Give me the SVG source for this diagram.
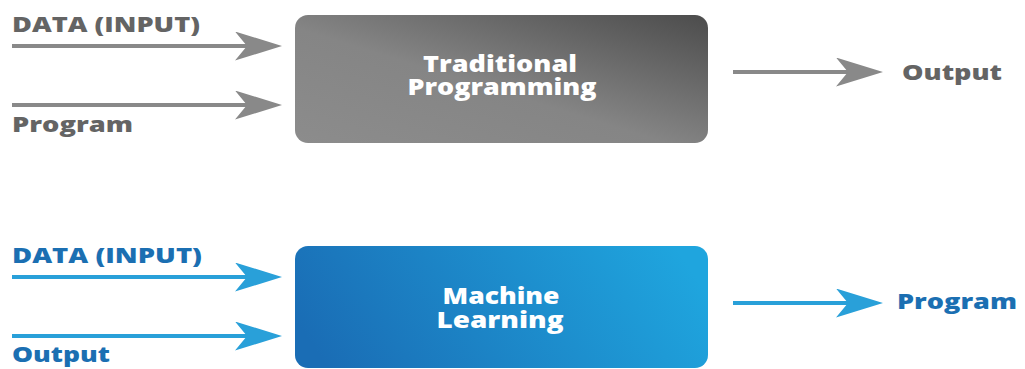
<svg xmlns="http://www.w3.org/2000/svg" width="1025" height="369" viewBox="0 0 1025 369">
  <style>
    .lbl { font-family: "Open Sans", "Liberation Sans", sans-serif; font-weight: 800; font-size: 21px; }
    .gray { fill: #646464; }
    .blue { fill: #1b6fb2; }
    .box-text { font-family: "Open Sans", "Liberation Sans", sans-serif; font-weight: 800; font-size: 23px; fill: #ffffff; text-anchor: middle; }
    .wire-gray { stroke: #898989; stroke-width: 4; fill: none; }
    .wire-blue { stroke: #29a0d9; stroke-width: 4; fill: none; }
  </style>
  <defs>
    <linearGradient id="gradGray" x1="0" y1="1" x2="1" y2="0">
      <stop offset="0" stop-color="#8c8c8c"/>
      <stop offset="0.45" stop-color="#858585"/>
      <stop offset="1" stop-color="#4c4c4c"/>
    </linearGradient>
    <linearGradient id="gradBlue" x1="0" y1="0.6" x2="1" y2="0.4">
      <stop offset="0" stop-color="#1a6db5"/>
      <stop offset="1" stop-color="#1fa5de"/>
    </linearGradient>
    <marker id="headGray" markerUnits="userSpaceOnUse" markerWidth="48" markerHeight="30" refX="35" refY="14.5" orient="auto">
      <path d="M0,0 L47,14.5 L0,29 L12,14.5 Z" fill="#898989"/>
    </marker>
    <marker id="headBlue" markerUnits="userSpaceOnUse" markerWidth="48" markerHeight="30" refX="35" refY="14.5" orient="auto">
      <path d="M0,0 L47,14.5 L0,29 L12,14.5 Z" fill="#29a0d9"/>
    </marker>
  </defs>

  <!-- connectors -->
  <g id="connectors">
    <path class="wire-gray" d="M12,46 H270" marker-end="url(#headGray)"/>
    <path class="wire-gray" d="M12,105 H270" marker-end="url(#headGray)"/>
    <path class="wire-gray" d="M733,72 H871" marker-end="url(#headGray)"/>
    <path class="wire-blue" d="M12,277 H270" marker-end="url(#headBlue)"/>
    <path class="wire-blue" d="M12,336 H270" marker-end="url(#headBlue)"/>
    <path class="wire-blue" d="M733,303 H871" marker-end="url(#headBlue)"/>
  </g>

  <!-- traditional programming -->
  <g id="traditional">
    <rect x="295" y="15" width="413" height="128" rx="13" fill="url(#gradGray)"/>
    <text class="box-text" x="500" y="72" textLength="154" lengthAdjust="spacingAndGlyphs">Traditional</text>
    <text class="box-text" x="502" y="95" textLength="189" lengthAdjust="spacingAndGlyphs">Programming</text>
  </g>
  <g id="trad-data-label">
    <text class="lbl gray" x="12" y="32" textLength="188" lengthAdjust="spacingAndGlyphs">DATA (INPUT)</text>
  </g>
  <g id="trad-program-label">
    <text class="lbl gray" x="12" y="132" textLength="121" lengthAdjust="spacingAndGlyphs">Program</text>
  </g>
  <g id="trad-output-label">
    <text class="lbl gray" x="902" y="80" textLength="100" lengthAdjust="spacingAndGlyphs">Output</text>
  </g>

  <!-- machine learning -->
  <g id="machine-learning">
    <rect x="295" y="246" width="413" height="122" rx="13" fill="url(#gradBlue)"/>
    <text class="box-text" x="501" y="304" textLength="117" lengthAdjust="spacingAndGlyphs">Machine</text>
    <text class="box-text" x="500" y="328" textLength="127" lengthAdjust="spacingAndGlyphs">Learning</text>
  </g>
  <g id="ml-data-label">
    <text class="lbl blue" x="12" y="263" textLength="190" lengthAdjust="spacingAndGlyphs">DATA (INPUT)</text>
  </g>
  <g id="ml-output-label">
    <text class="lbl blue" x="12" y="362" textLength="98" lengthAdjust="spacingAndGlyphs">Output</text>
  </g>
  <g id="ml-program-label">
    <text class="lbl blue" x="897" y="309" textLength="120" lengthAdjust="spacingAndGlyphs">Program</text>
  </g>
</svg>
